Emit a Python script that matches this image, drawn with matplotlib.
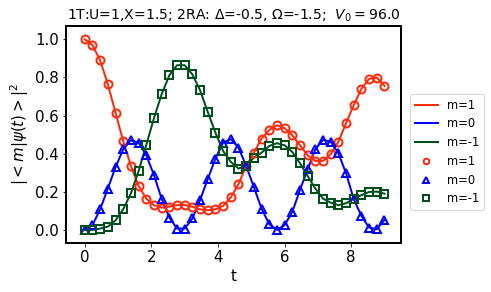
import numpy as np
import matplotlib
matplotlib.use("Agg")
import matplotlib.pyplot as plt

t = np.linspace(0, 9, 40)
p_m1 = [1.0, 0.97, 0.89, 0.764, 0.615, 0.467, 0.336, 0.231, 0.164, 0.13,
        0.117, 0.122, 0.13, 0.131, 0.121, 0.108, 0.103, 0.108, 0.126, 0.17,
        0.24, 0.336, 0.405, 0.479, 0.524, 0.549, 0.533, 0.497, 0.444, 0.392,
        0.362, 0.362, 0.397, 0.463, 0.56, 0.655, 0.741, 0.793, 0.799, 0.755]
p_0 = [0.0, 0.025, 0.108, 0.217, 0.329, 0.423, 0.47, 0.458, 0.392, 0.288,
       0.164, 0.065, 0.007, 0.007, 0.06, 0.157, 0.266, 0.374, 0.458, 0.476,
       0.432, 0.336, 0.225, 0.112, 0.03, 0.0, 0.025, 0.094, 0.21, 0.318,
       0.423, 0.472, 0.463, 0.402, 0.297, 0.161, 0.073, 0.012, 0.004, 0.052]
p_mm1 = [0.0, 0.0, 0.007, 0.017, 0.05, 0.108, 0.192, 0.308, 0.446, 0.586,
         0.712, 0.811, 0.864, 0.864, 0.816, 0.733, 0.619, 0.51, 0.414, 0.357,
         0.322, 0.336, 0.379, 0.405, 0.44, 0.455, 0.444, 0.409, 0.35, 0.283,
         0.217, 0.164, 0.143, 0.13, 0.14, 0.164, 0.182, 0.199, 0.201, 0.19]
labels = ["m=1", "m=0", "m=-1"]
xticks = [0, 2, 4, 6, 8]
yticks = [0.0, 0.2, 0.4, 0.6, 0.8, 1.0]

colors = ["#ff2a0a", "#0000ff", "#00501e"]
markers = ["o", "^", "s"]
series = [p_m1, p_0, p_mm1]

fig = plt.figure(figsize=(491 / 72, 292 / 72), dpi=72)
ax = fig.add_axes([0.134, 0.167, 0.683, 0.744])

for y, c, lab in zip(series, colors, labels):
    ax.plot(t, y, color=c, lw=2, label=lab)
for y, c, m, lab in zip(series, colors, markers, labels):
    ax.plot(t, y, linestyle="none", marker=m, markersize=8, markeredgewidth=2,
            markerfacecolor="none", markeredgecolor=c, label=lab)

ax.set_xlim(-0.57, 9.5)
ax.set_ylim(-0.07, 1.07)
ax.set_xticks(xticks)
ax.set_yticks(yticks)
ax.tick_params(labelsize=15)
for s in ax.spines.values():
    s.set_linewidth(2)
ax.set_xlabel("t", fontsize=15)
ax.set_ylabel(r"$|<m|\psi(t)>|^2$", fontsize=15)
ax.set_title(r"1T:U=1,X=1.5; 2RA: Δ=-0.5, Ω=-1.5;  $V_0=96.0$", fontsize=14)

leg = ax.legend(loc="center left", bbox_to_anchor=(1.01, 0.42), fontsize=11.5,
                markerscale=0.7)

fig.savefig("out.png", dpi=72)
